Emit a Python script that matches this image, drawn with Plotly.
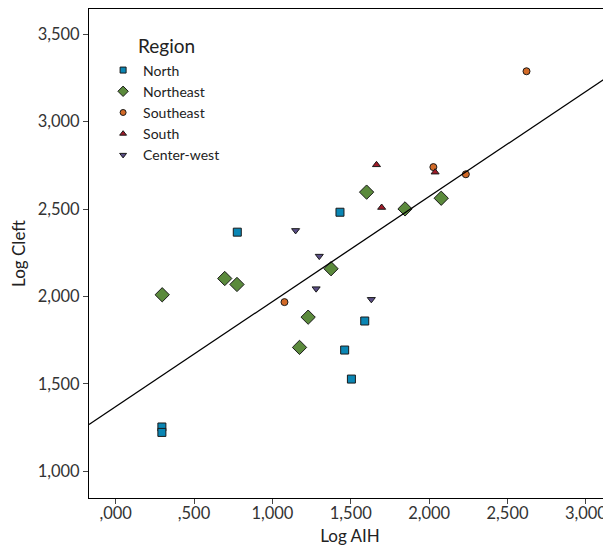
import numpy as np
import plotly.graph_objects as go

regions = ["North", "Northeast", "Southeast", "South", "Center-west"]

north_x = [0.295, 0.295, 0.776, 1.431, 1.589, 1.461, 1.504]
north_y = [1.254, 1.223, 2.368, 2.482, 1.860, 1.694, 1.528]

northeast_x = [0.297, 0.696, 0.774, 1.173, 1.228, 1.374, 1.601, 1.846, 2.077]
northeast_y = [2.010, 2.103, 2.069, 1.709, 1.882, 2.159, 2.597, 2.501, 2.562]

southeast_x = [1.077, 2.027, 2.234, 2.621]
southeast_y = [1.968, 2.740, 2.699, 3.288]

south_x = [1.664, 1.697, 2.038]
south_y = [2.753, 2.509, 2.711]

centerwest_x = [1.148, 1.299, 1.279, 1.631]
centerwest_y = [2.378, 2.231, 2.045, 1.984]

x_tickvals = [0, 0.5, 1.0, 1.5, 2.0, 2.5, 3.0]
x_ticktext = [",000", ",500", "1,000", "1,500", "2,000", "2,500", "3,000"]
y_tickvals = [1.0, 1.5, 2.0, 2.5, 3.0, 3.5]
y_ticktext = ["1,000", "1,500", "2,000", "2,500", "3,000", "3,500"]

x_range = [-0.17, 3.16]
y_range = [0.848, 3.644]

FONT = "Lato, 'Open Sans', sans-serif"

series = [
    (north_x, north_y, "square", "#0A86B4", 8, 6),
    (northeast_x, northeast_y, "diamond", "#5B8A3C", 11, 8),
    (southeast_x, southeast_y, "circle", "#D26A27", 7, 6),
    (south_x, south_y, "triangle-up", "#A01A28", 7, 6),
    (centerwest_x, centerwest_y, "triangle-down", "#5A4E86", 7, 6),
]

fig = go.Figure()
for name, (xs, ys, sym, col, sz, lsz) in zip(regions, series):
    fig.add_trace(go.Scatter(
        x=xs, y=ys, mode="markers", name=name, legendgroup=name,
        showlegend=False,
        marker=dict(symbol=sym, color=col, size=sz,
                    line=dict(color="#1a1a1a", width=1)),
    ))
    # legend-only entry with the smaller legend symbol
    fig.add_trace(go.Scatter(
        x=[None], y=[None], mode="markers", name=name, legendgroup=name,
        marker=dict(symbol=sym, color=col, size=lsz,
                    line=dict(color="#1a1a1a", width=1)),
    ))

all_x = np.array(north_x + northeast_x + southeast_x + south_x + centerwest_x)
all_y = np.array(north_y + northeast_y + southeast_y + south_y + centerwest_y)
slope, intercept = np.polyfit(all_x, all_y, 1)
lx = np.array(x_range)
fig.add_trace(go.Scatter(
    x=lx, y=slope * lx + intercept, mode="lines",
    line=dict(color="black", width=1.3), showlegend=False, hoverinfo="skip",
))

fig.update_layout(
    width=603, height=538,
    margin=dict(l=81, r=0, t=1, b=48, autoexpand=False),
    paper_bgcolor="white", plot_bgcolor="white",
    font=dict(family=FONT, size=16.5, color="#333333"),
    legend=dict(
        x=0.027, y=0.907, xanchor="left", yanchor="top",
        bgcolor="rgba(0,0,0,0)", font=dict(size=14, color="#222222"),
        itemsizing="trace", tracegroupgap=0, itemwidth=30,
    ),
    annotations=[dict(
        text="Region", xref="paper", yref="paper", x=0.09, y=0.926,
        xanchor="left", yanchor="middle", showarrow=False,
        font=dict(size=19, color="#222222"),
    )],
    xaxis=dict(
        range=x_range, tickvals=x_tickvals, ticktext=x_ticktext,
        showgrid=False, zeroline=False, automargin=False,
        showline=True, linecolor="black", linewidth=1, mirror=True,
        ticks="outside", ticklen=5, tickcolor="#444444",
        ticklabelstandoff=-5,
        title=dict(text="Log AIH", font=dict(size=17, color="#222222"), standoff=9),
    ),
    yaxis=dict(
        range=y_range, tickvals=y_tickvals, ticktext=y_ticktext,
        showgrid=False, zeroline=False, automargin=False,
        showline=True, linecolor="black", linewidth=1,
        ticks="outside", ticklen=5, tickcolor="#444444",
        title=dict(text="Log Cleft", font=dict(size=17, color="#222222"), standoff=10),
    ),
)

fig.write_html("out.html")
